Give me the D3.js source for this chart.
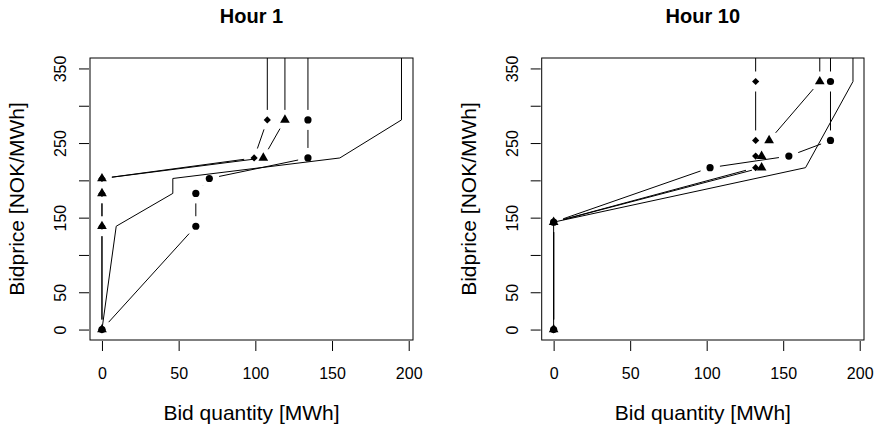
<!DOCTYPE html>
<html><head><meta charset="utf-8">
<script src="https://cdn.jsdelivr.net/npm/d3@7"></script>
<style>body{margin:0;background:#fff} svg{display:block}</style>
</head><body>
<svg id="c" width="877" height="427"></svg>
<script>
// ---- data ----
const xTicks = [0, 50, 100, 150, 200];
const yTicks = [0, 50, 100, 150, 200, 250, 300, 350];
const yTickLabels = ["0", "50", "", "150", "", "250", "", "350"];
const CAP = 1000; // price cap, beyond the visible range (clipped)

const panelTitles = ["Hour  1", "Hour  10"];

// Hour 1
const h1Price = [0, 138.5, 182.5, 202.5, 230, 281, CAP];
const h1CircleQ = [0, 61.2, 61.2, 70, 134.3, 134.3, 134.3];
const h1TriangleQ = [0, 0, 0, 0, 105.2, 119.3, 119.3];
const h1DiamondQ = [0, 0, 0, 0, 99.2, 107.8, 107.8];
const h1LineQ = [0, 9.3, 46.2, 46.2, 155.1, 195.3, 195.3];

// Hour 10
const h10Price = [0, 144, 217, 232.5, 253.5, 332.5, CAP];
const h10CircleQ = [0, 0, 102.2, 153.7, 180.9, 180.9, 180.9];
const h10TriangleQ = [0, 0, 135.9, 135.9, 140.8, 173.9, 173.9];
const h10DiamondQ = [0, 0, 132, 132, 132, 132, 132];
const h10LinePrice = [0, 144, 217, 332.5, CAP];
const h10LineQ = [0, 0, 164.6, 195.6, 195.6];

// ---- drawing ----
const svg = d3.select("#c");
const FONT = "'Liberation Sans', Arial, Helvetica, sans-serif";
const GAP = 10;
const MK = 3.6;

function zip(xs, ys) { return xs.map((x, i) => ({ q: x, p: ys[i] })); }

const panels = [
  { left: 90, right: 413, title: panelTitles[0],
    line: zip(h1LineQ, h1Price),
    circles: zip(h1CircleQ, h1Price),
    diamonds: zip(h1DiamondQ, h1Price),
    triangles: zip(h1TriangleQ, h1Price) },
  { left: 541.7, right: 864, title: panelTitles[1],
    line: zip(h10LineQ, h10LinePrice),
    circles: zip(h10CircleQ, h10Price),
    diamonds: zip(h10DiamondQ, h10Price),
    triangles: zip(h10TriangleQ, h10Price) }
];
const TOPY = 58, BOTY = 340;

panels.forEach((P, pi) => {
  const x = d3.scaleLinear().domain([-7.8, 202.8]).range([P.left, P.right]);
  const y = d3.scaleLinear().domain([-14, 364]).range([BOTY, TOPY]);
  const g = svg.append("g");
  const clipId = "clip" + pi;
  svg.append("clipPath").attr("id", clipId).append("rect")
    .attr("x", P.left).attr("y", TOPY).attr("width", P.right - P.left).attr("height", BOTY - TOPY);
  const plot = g.append("g").attr("clip-path", `url(#${clipId})`);

  // solid line
  plot.append("path")
    .attr("d", d3.line().x(d => x(d.q)).y(d => y(d.p))(P.line))
    .attr("fill", "none").attr("stroke", "#000").attr("stroke-width", 1);

  // type "b" lines with gaps around the points
  function gapLines(pts) {
    for (let i = 0; i < pts.length - 1; i++) {
      const x1 = x(pts[i].q), y1 = y(pts[i].p), x2 = x(pts[i + 1].q), y2 = y(pts[i + 1].p);
      const L = Math.hypot(x2 - x1, y2 - y1);
      if (L <= 2 * GAP) continue;
      const ux = (x2 - x1) / L, uy = (y2 - y1) / L;
      plot.append("line")
        .attr("x1", x1 + ux * GAP).attr("y1", y1 + uy * GAP)
        .attr("x2", x2 - ux * GAP).attr("y2", y2 - uy * GAP)
        .attr("stroke", "#000").attr("stroke-width", 1);
    }
  }
  gapLines(P.circles);
  gapLines(P.diamonds);
  gapLines(P.triangles);

  const vis = pts => pts.filter(d => d.p < 364);
  plot.selectAll(null).data(vis(P.circles)).enter().append("circle")
    .attr("cx", d => x(d.q)).attr("cy", d => y(d.p)).attr("r", MK).attr("fill", "#000");
  plot.selectAll(null).data(vis(P.diamonds)).enter().append("path")
    .attr("d", d => { const cx = x(d.q), cy = y(d.p);
      return `M${cx - MK},${cy}L${cx},${cy - MK}L${cx + MK},${cy}L${cx},${cy + MK}Z`; })
    .attr("fill", "#000");
  const tr = MK * 1.5551, txc = MK * 1.3468, tyc = MK * 0.7776;
  plot.selectAll(null).data(vis(P.triangles)).enter().append("path")
    .attr("d", d => { const cx = x(d.q), cy = y(d.p);
      return `M${cx},${cy - tr}L${cx + txc},${cy + tyc}L${cx - txc},${cy + tyc}Z`; })
    .attr("fill", "#000");

  // box
  g.append("rect").attr("x", P.left).attr("y", TOPY)
    .attr("width", P.right - P.left).attr("height", BOTY - TOPY)
    .attr("fill", "none").attr("stroke", "#000").attr("stroke-width", 1);

  // x axis
  const xa = g.append("g").attr("transform", `translate(0,${BOTY + 1})`)
    .call(d3.axisBottom(x).tickValues(xTicks).tickSize(10).tickPadding(17).tickFormat(d3.format("d")));
  xa.select(".domain").remove();
  xa.attr("font-family", null).attr("font-size", null);
  xa.selectAll("text").attr("font-family", FONT).attr("font-size", 16).attr("fill", "#000").attr("dy", "0.71em");
  xa.selectAll("line").attr("stroke", "#000");

  // y axis (labels rotated, parallel to the axis)
  const ya = g.append("g").attr("transform", `translate(${P.left - 1},0)`)
    .call(d3.axisLeft(y).tickValues(yTicks).tickSize(10).tickFormat((d, i) => yTickLabels[i]));
  ya.select(".domain").remove();
  ya.attr("font-family", null).attr("font-size", null);
  ya.selectAll("line").attr("stroke", "#000");
  ya.selectAll("text")
    .attr("font-family", FONT).attr("font-size", 16).attr("fill", "#000")
    .attr("x", null).attr("dy", null)
    .attr("text-anchor", "middle")
    .attr("transform", "translate(-23,0) rotate(-90)");

  // title
  g.append("text").attr("x", (P.left + P.right) / 2).attr("y", 23)
    .attr("text-anchor", "middle").attr("font-family", FONT)
    .attr("font-weight", "bold").attr("font-size", 20).text(P.title);

  // axis labels
  g.append("text").attr("x", (P.left + P.right) / 2).attr("y", 420)
    .attr("text-anchor", "middle").attr("font-family", FONT)
    .attr("font-size", 21).text("Bid quantity [MWh]");
  g.append("text")
    .attr("transform", `translate(${P.left - 66},${(TOPY + BOTY) / 2}) rotate(-90)`)
    .attr("text-anchor", "middle").attr("font-family", FONT)
    .attr("font-size", 21).text("Bidprice [NOK/MWh]");
});
</script>
</body></html>
